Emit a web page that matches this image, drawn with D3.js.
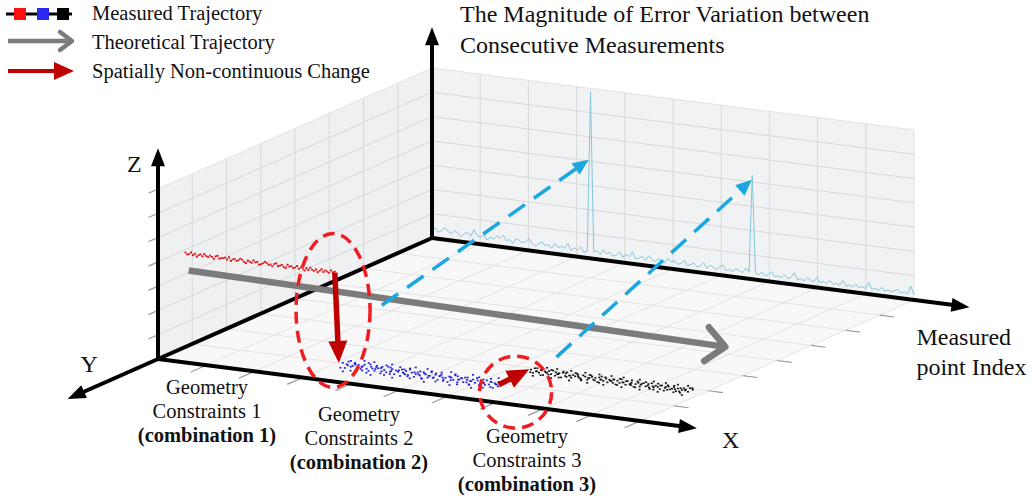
<!DOCTYPE html>
<html>
<head>
<meta charset="utf-8">
<script src="https://cdn.jsdelivr.net/npm/d3@7"></script>
<style>
  body { margin: 0; background: #fff; }
  svg { display: block; font-family: "Liberation Serif", "Times New Roman", serif; }
</style>
</head>
<body>
<svg id="chart" width="1033" height="499"></svg>
<script>
// ---- grid divisions of the 3D box ----
const gridX = 10;          // divisions along measured point index
const gridY = 8;           // divisions along Y (depth)
const gridZ = 7;           // divisions along Z (height)
const indexMax = 300;      // measured point index range

// ---- magnitude of error variation between consecutive measurements (% of wall height) ----
const errorMagnitude = [
  5,6,4,5,7,5,4,6,5,3,5,6,4,8,5,4,6,3,5,4,6,5,7,4,5,
  3,6,5,4,5,7,4,3,5,6,4,5,3,6,4,5,4,7,3,5,4,6,3,4,98,
  4,5,3,6,4,5,3,4,6,3,5,4,7,3,4,5,3,6,4,3,5,4,3,6,4,
  5,3,4,6,3,4,5,3,4,6,3,5,4,3,5,6,3,4,3,5,4,3,6,4,61,
  4,3,5,3,4,6,3,4,3,5,3,4,7,3,4,3,5,4,3,6,3,4,3,5,3,
  4,3,6,3,4,3,5,3,4,3,7,3,4,3,5,3,4,3,4,5,3,4,3,8,3
];

// ---- measured trajectory deviations (one value per sample) ----
const redDev = [
  1,-1,0,2,-1,1,-2,0,1,-1,2,0,-1,1,0,-2,1,2,-1,0,
  0,1,-1,2,-2,0,1,-1,0,2,1,-1,-2,1,0,-1,2,0,1,-2,
  -1,0,2,1,-1,0,-2,1,2,-1,0,1,-1,-2,2,0,1,-1,0,2,
  -1,1,0,-2,1,-1,2,0,-1,1,-2,0,2,-1,1,0,-1,2,0,1
];
const blueDevA = [
  2,-3,1,4,-1,0,3,-4,2,-2,1,3,-1,-3,4,0,-2,2,1,-4,
  3,0,-2,4,-1,2,-3,1,0,-4,3,-1,2,-2,4,1,-3,0,2,-1,
  -4,3,1,-2,0,4,-1,2,-3,1,3,-2,0,-4,2,1,-1,4,-3,0,
  2,-2,3,1,-4,0,2,-1,4,-3,1,0,-2,3,-1,2,-4,1,0,3
];
const blueDevB = [
  -2,3,0,-4,2,1,-3,4,-1,0,3,-2,4,1,-3,2,0,-4,1,3,
  -1,4,2,-3,0,-2,3,1,-4,2,0,3,-1,4,-2,1,-3,2,0,4,
  1,-2,3,0,-4,2,-1,3,1,-3,0,4,-2,1,3,-1,2,-4,0,1,
  -3,2,4,-1,0,-2,3,1,-4,2,-1,0,3,-3,1,4,-2,0,2,-1
];
const blackDevA = [
  1,-2,3,0,-1,2,-3,1,0,2,-1,3,-2,0,1,-3,2,-1,3,0,
  -2,1,0,3,-1,-3,2,1,-2,0,3,-1,1,-3,2,0,-1,3,-2,1,
  0,2,-3,1,-1,3,0,-2,2,-1,1,-3,0,3,-2,1,2,-1,0,-3,
  3,-1,1,0,-2,2,-3,1,3,-1,0,2,-2,1,-3,0,2,1,-1,3
];
const blackDevB = [
  -1,2,0,-3,1,3,-2,0,2,-1,3,1,-3,0,2,-2,1,3,-1,0,
  2,-3,1,0,3,-1,-2,2,0,1,-3,3,-1,2,0,-2,1,3,-3,0,
  1,-1,2,3,-2,0,1,-3,2,0,-1,3,1,-2,0,2,-3,1,3,-1,
  0,2,-2,1,3,-3,0,1,-1,2,3,0,-2,1,-1,3,0,-3,2,1
];

// ---- trajectory segments: index range, depth (Y) and height (Z) ----
const segmentNames  = ["combination 1", "combination 2", "combination 3"];
const segmentStart  = [0, 98, 198];
const segmentEnd    = [93, 195, 297];
const segmentDepth  = [0.8, 0.8, 1.6];
const segmentHeight = [3.85, 0.1, 0.21];
const segmentColors = ["#e3161b", "#1f1fd6", "#111111"];

// ---- text ----
const legendLabels = ["Measured Trajectory", "Theoretical Trajectory", "Spatially Non-continuous Change"];
const titleLines = ["The Magnitude of Error Variation between", "Consecutive Measurements"];
const constraintLabels = [
  ["Geometry", "Constraints 1", "(combination 1)"],
  ["Geometry", "Constraints 2", "(combination 2)"],
  ["Geometry", "Constraints 3", "(combination 3)"]
];

// ---- oblique projection of the box ----
const svg = d3.select("#chart");
const xs = d3.scaleLinear().domain([0, indexMax]).range([0, 1]);
const ys = d3.scaleLinear().domain([0, gridY]).range([0, 1]);
const zs = d3.scaleLinear().domain([0, gridZ]).range([0, 1]);
const errScale = d3.scaleLinear().domain([0, 100]).range([0, gridZ]);
const origin = [158, 359];
const ex = [482, 62], ey = [274, -121], ez = -170;
function P(i, d, h) {
  const u = xs(i), v = ys(d), w = zs(h);
  return [origin[0] + ex[0] * u + ey[0] * v, origin[1] + ex[1] * u + ey[1] * v + ez * w];
}
const pts = a => a.map(p => p.join(",")).join(" ");
const line = (g, a, b, stroke, w) => g.append("line")
  .attr("x1", a[0]).attr("y1", a[1]).attr("x2", b[0]).attr("y2", b[1])
  .attr("stroke", stroke).attr("stroke-width", w);

function arrow(g, a, b, o) {
  const dx = b[0] - a[0], dy = b[1] - a[1], L = Math.hypot(dx, dy);
  const ux = dx / L, uy = dy / L, px = -uy, py = ux;
  const base = [b[0] - ux * o.len, b[1] - uy * o.len];
  const end = o.open ? [b[0] - ux * 3, b[1] - uy * 3] : [base[0] + ux * 2, base[1] + uy * 2];
  const l = line(g, a, end, o.color, o.width);
  if (o.dash) l.attr("stroke-dasharray", o.dash);
  if (o.open) {
    g.append("polyline")
      .attr("points", pts([[base[0] + px * o.hw, base[1] + py * o.hw], b, [base[0] - px * o.hw, base[1] - py * o.hw]]))
      .attr("fill", "none").attr("stroke", o.color).attr("stroke-width", o.width)
      .attr("stroke-linecap", "round").attr("stroke-linejoin", "round");
  } else {
    g.append("polygon")
      .attr("points", pts([b, [base[0] + px * o.hw, base[1] + py * o.hw], [base[0] - px * o.hw, base[1] - py * o.hw]]))
      .attr("fill", o.color);
  }
}

// ---- walls and floor ----
const box = svg.append("g");
box.append("polygon").attr("points", pts([P(0,0,0), P(0,gridY,0), P(0,gridY,gridZ), P(0,0,gridZ)]))
  .attr("fill", "#eef0f2").attr("stroke", "#e2e2e2");
box.append("polygon").attr("points", pts([P(0,gridY,0), P(indexMax,gridY,0), P(indexMax,gridY,gridZ), P(0,gridY,gridZ)]))
  .attr("fill", "#f1f2f3").attr("stroke", "#e2e2e2");
box.append("polygon").attr("points", pts([P(0,0,0), P(indexMax,0,0), P(indexMax,gridY,0), P(0,gridY,0)]))
  .attr("fill", "#f8f8f8").attr("stroke", "#e2e2e2");

const gridColor = "#d8d8d8";
const xTicks = d3.range(0, gridX + 1).map(k => xs.invert(k / gridX));
// left wall
d3.range(1, gridY).forEach(k => line(box, P(0,k,0), P(0,k,gridZ), gridColor, 1));
d3.range(1, gridZ).forEach(k => line(box, P(0,0,k), P(0,gridY,k), gridColor, 1));
// back wall
xTicks.slice(1, -1).forEach(i => line(box, P(i,gridY,0), P(i,gridY,gridZ), gridColor, 1));
d3.range(1, gridZ).forEach(k => line(box, P(0,gridY,k), P(indexMax,gridY,k), gridColor, 1));
// floor
xTicks.slice(1, -1).forEach(i => line(box, P(i,0,0), P(i,gridY,0), "#e3e3e3", 1));
d3.range(1, gridY).forEach(k => line(box, P(0,k,0), P(indexMax,k,0), "#e3e3e3", 1));

// tick marks
const tickColor = "#9a9a9a";
xTicks.slice(1).forEach(i => line(box, P(i,0,0), P(i,-0.45,0), tickColor, 1.2));
d3.range(0, gridY + 1).forEach(k => line(box, P(indexMax,k,0), P(indexMax + 9,k,0), tickColor, 1.2));
d3.range(1, gridZ + 1).forEach(k => line(box, P(0,0,k), P(0,-0.28,k), tickColor, 1.2));

// ---- error variation curve on the back wall ----
const errStep = indexMax / (errorMagnitude.length - 1);
box.append("path")
  .attr("d", d3.line()(errorMagnitude.map((v, i) => P(i * errStep, gridY, errScale(v)))))
  .attr("fill", "none").attr("stroke", "#84c7dc").attr("stroke-width", 1);

// ---- axes ----
const ax = svg.append("g");
const axisArrow = { color: "#000", width: 4, len: 18, hw: 7 };
line(ax, P(0,0,0), P(0,gridY,0), "#000", 4);
arrow(ax, P(0,0,0), P(0,0,gridZ * 1.24), axisArrow);
arrow(ax, P(0,0,0), P(0,-gridY * 0.33,0), axisArrow);
arrow(ax, P(0,0,0), P(indexMax * 1.118,0,0), axisArrow);
arrow(ax, P(0,gridY,0), P(0,gridY,gridZ * 1.24), axisArrow);
arrow(ax, P(0,gridY,0), P(indexMax * 1.115,gridY,0), axisArrow);

// ---- theoretical trajectory ----
const marks = svg.append("g");
arrow(marks, P(-15, 1.6, 2.52), P(319, 1.6, 2.22), { color: "#7b7b7b", width: 6.5, len: 19, hw: 17, open: true });

// ---- measured trajectory ----
const devUnit = 0.04;
function drawSegment(s, devA, devB) {
  const n = devA.length;
  const step = (segmentEnd[s] - segmentStart[s]) / (n - 1);
  const sampleA = devA.map((d, k) => P(segmentStart[s] + k * step, segmentDepth[s], segmentHeight[s] + d * devUnit));
  const g = marks.append("g").attr("fill", segmentColors[s]);
  if (!devB) {
    g.append("path").attr("d", d3.line()(sampleA)).attr("fill", "none")
      .attr("stroke", segmentColors[s]).attr("stroke-width", 0.9).attr("opacity", 0.8);
  }
  const all = devB ? sampleA.concat(devB.map((d, k) =>
      P(segmentStart[s] + (k + 0.5) * step, segmentDepth[s] + d * 0.05, segmentHeight[s] + d * devUnit * 0.7))) : sampleA;
  g.selectAll("rect").data(all).join("rect")
    .attr("x", p => p[0] - 1).attr("y", p => p[1] - 0.8).attr("width", 2).attr("height", 1.6);
}
drawSegment(0, redDev);
drawSegment(1, blueDevA, blueDevB);
drawSegment(2, blackDevA, blackDevB);

// ---- spatially non-continuous changes ----
const redArrow = { color: "#c00000", width: 5.5, len: 22, hw: 9.5 };
arrow(marks, P(segmentEnd[0], segmentDepth[0], segmentHeight[0]), P(95.5, segmentDepth[1], 0.15), redArrow);
arrow(marks, P(segmentEnd[1], segmentDepth[1], segmentHeight[1]), P(segmentStart[2] - 1, segmentDepth[2], segmentHeight[2] + 0.05), redArrow);

// ---- projections onto the error wall ----
const dashArrow = { color: "#1ba7e1", width: 3.5, len: 16, hw: 7, dash: "20,11" };
arrow(marks, P(97.5, 1.96, 1.82), P(97.5, gridY, 4.05), dashArrow);
arrow(marks, P(199, 2.3, 0.34), P(199, gridY, 4.09), dashArrow);

// ---- highlight rings ----
const ringAnchors = [P(95, segmentDepth[0], 1.9), P(197, 1.2, 0.1)];
const ringShift = [[-5, -10], [0, 13]];
const ringRadii = [[37, 77], [36, 36]];
ringAnchors.forEach((a, k) => marks.append("ellipse")
  .attr("cx", a[0] + ringShift[k][0]).attr("cy", a[1] + ringShift[k][1])
  .attr("rx", ringRadii[k][0]).attr("ry", ringRadii[k][1])
  .attr("fill", "none").attr("stroke", "#f01c22").attr("stroke-width", 3.5)
  .attr("stroke-dasharray", "12,7"));

// ---- labels ----
const txt = svg.append("g").attr("fill", "#111");
function label(x, y, s, size, bold, anchor) {
  return txt.append("text").attr("x", x).attr("y", y).attr("font-size", size)
    .attr("font-weight", bold ? "bold" : "normal").attr("text-anchor", anchor || "start").text(s);
}
titleLines.forEach((s, k) => label(460, 22 + k * 31, s, 24));
const zTip = P(0, 0, gridZ * 1.24), yTip = P(0, -gridY * 0.33, 0), xTip = P(indexMax * 1.118, 0, 0), iTip = P(indexMax * 1.115, gridY, 0);
label(zTip[0] - 31, zTip[1] + 24, "Z", 24);
label(yTip[0] + 13, yTip[1] - 27, "Y", 24);
label(xTip[0] + 25, xTip[1] + 20, "X", 24);
label(iTip[0] - 53, iTip[1] + 38, "Measured", 24);
label(iTip[0] - 53, iTip[1] + 68, "point Index", 24);
const groupCx = [207, 359, 527], groupY = [394, 421, 443];
constraintLabels.forEach((lines, k) => lines.forEach((s, j) =>
  label(groupCx[k], groupY[k] + j * 24, s, 20.5, j === 2, "middle")));

// ---- legend ----
const lg = svg.append("g");
line(lg, [6, 14], [72, 14], "#000", 3);
[["#ff1010", 14], ["#2a2af0", 37], ["#000", 57]].forEach(([c, x]) =>
  lg.append("rect").attr("x", x).attr("y", 8).attr("width", 12).attr("height", 12).attr("fill", c));
arrow(lg, [8, 41], [72, 41], { color: "#7b7b7b", width: 4.5, len: 12, hw: 9, open: true });
arrow(lg, [8, 71], [74, 71], { color: "#c00000", width: 4, len: 20, hw: 9 });
legendLabels.forEach((s, k) => label(92, 20 + k * 29, s, 20.5));
</script>
</body>
</html>
